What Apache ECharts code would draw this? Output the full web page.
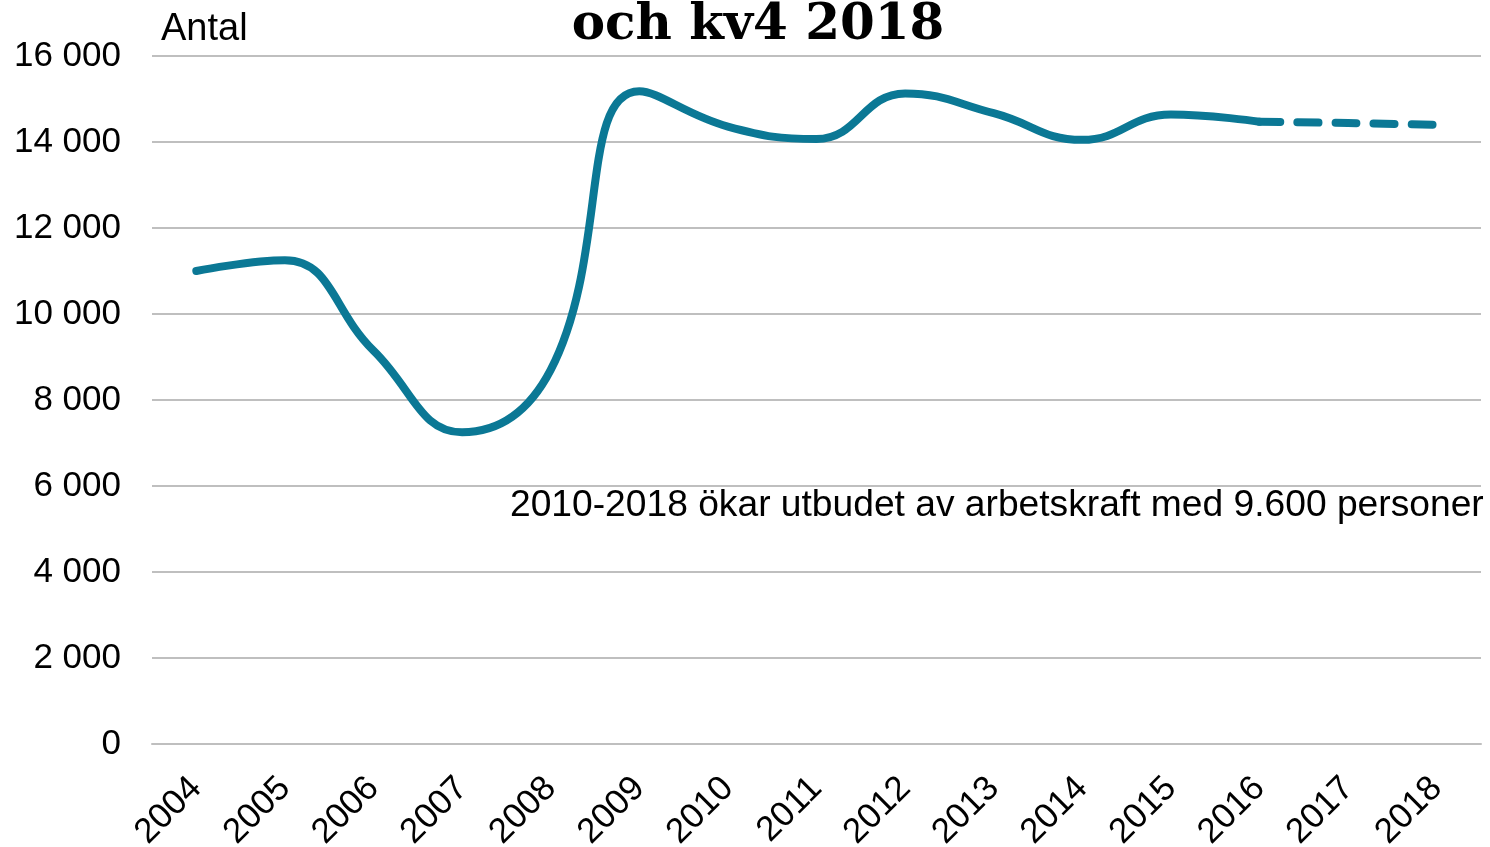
<!DOCTYPE html>
<html>
<head>
<meta charset="utf-8">
<script src="https://cdn.jsdelivr.net/npm/echarts@6/dist/echarts.min.js"></script>
<style>
html,body{margin:0;padding:0;background:#fff;}
#main{width:1490px;height:847px;}
</style>
</head>
<body>
<div id="main"></div>
<script>
var years = ['2004','2005','2006','2007','2008','2009','2010','2011','2012','2013','2014','2015','2016','2017','2018'];
var actual = [11000, 11250, 9150, 7250, 8700, 15180, 14360, 14070, 15130, 14670, 14050, 14640, 14470, null, null];
var forecast = [null, null, null, null, null, null, null, null, null, null, null, null, 14470, 14440, 14400];
var yTicks = [0, 2000, 4000, 6000, 8000, 10000, 12000, 14000, 16000];
var titleText = 'och kv4 2018';
var unitText = 'Antal';
var noteText = '2010-2018 ökar utbudet av arbetskraft med 9.600 personer';

var chart = echarts.init(document.getElementById('main'), null, {renderer: 'canvas'});
var lineColor = '#0b7895';
function fmt(v){ return String(v).replace(/\B(?=(\d{3})+(?!\d))/g, ' '); }
chart.setOption({
  animation: false,
  backgroundColor: '#ffffff',
  grid: {left: 152, right: 9, top: 56, bottom: 103, containLabel: false, outerBoundsMode: 'none'},
  xAxis: {
    type: 'category',
    data: years,
    boundaryGap: true,
    axisLine: {show: true, lineStyle: {color: '#bfbfbf', width: 2}},
    axisTick: {show: false},
    axisLabel: {rotate: 45, margin: 39, color: '#000', fontSize: 35, fontFamily: 'Liberation Sans, Arial, sans-serif', interval: 0}
  },
  yAxis: {
    type: 'value',
    min: yTicks[0],
    max: yTicks[yTicks.length - 1],
    interval: 2000,
    axisLine: {show: false},
    axisTick: {show: false},
    splitLine: {show: true, lineStyle: {color: '#bfbfbf', width: 2}},
    axisLabel: {margin: 31, color: '#000', fontSize: 35, fontFamily: 'Liberation Sans, Arial, sans-serif', formatter: fmt}
  },
  series: [
    {
      type: 'line', data: actual, smooth: 0.45, symbol: 'none', connectNulls: false,
      lineStyle: {color: lineColor, width: 8, cap: 'round', join: 'round'}
    },
    {
      type: 'line', data: forecast, smooth: 0.45, symbol: 'none',
      lineStyle: {color: lineColor, width: 8, type: [21, 17], cap: 'round'}
    }
  ],
  graphic: [
    {type: 'text', left: 161, top: 11, style: {text: unitText, fill: '#000', font: '38px "Liberation Sans", Arial, sans-serif'}},
    {type: 'text', x: 758, y: 26, style: {text: titleText, fill: '#000', align: 'center', verticalAlign: 'middle', font: 'bold 50px "DejaVu Serif", Georgia, serif'}},
    {type: 'text', left: 510, top: 487, style: {text: noteText, fill: '#000', font: '37.2px "Liberation Sans", Arial, sans-serif'}}
  ]
});
</script>
</body>
</html>
